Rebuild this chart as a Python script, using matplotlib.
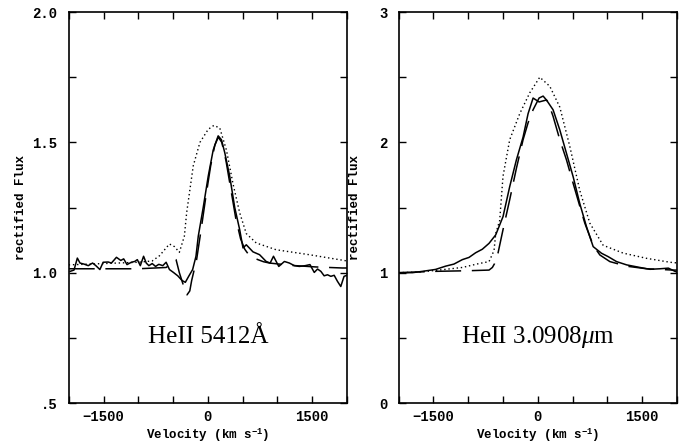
import matplotlib
matplotlib.use("Agg")
import matplotlib.pyplot as plt
from matplotlib.ticker import MultipleLocator, FixedLocator, FixedFormatter

plt.rcParams['mathtext.fontset'] = 'custom'
plt.rcParams['mathtext.rm'] = 'Liberation Mono:bold'
plt.rcParams['mathtext.it'] = 'Liberation Serif:italic'

# ---------------- Left panel: HeII 5412 A ----------------
obs_v_L = [-1981, -1924, -1876, -1838, -1781, -1719, -1657, -1610, -1552, -1505, -1433, -1386,
           -1314, -1252, -1210, -1162, -1100, -1052, -1014, -971, -924, -886, -848, -800, -752,
           -705, -648, -600, -552, -495, -433, -371, -324, -276, -219, -171, -138, -67, 5, 76,
           148, 195, 243, 314, 386, 457, 505, 552, 648, 743, 838, 895, 943, 1019, 1100, 1171,
           1243, 1314, 1400, 1467, 1529, 1576, 1624, 1671, 1719, 1767, 1815, 1862, 1910, 1957, 2000]
obs_f_L = [1.005, 1.01, 1.056, 1.037, 1.033, 1.027, 1.037, 1.027, 1.012, 1.04, 1.041, 1.037,
           1.059, 1.047, 1.053, 1.031, 1.04, 1.043, 1.05, 1.027, 1.063, 1.037, 1.027, 1.035, 1.024,
           1.032, 1.027, 1.04, 1.012, 1.001, 0.988, 0.97, 0.963, 0.986, 1.012, 1.063, 1.14, 1.25,
           1.37, 1.47, 1.525, 1.51, 1.46, 1.37, 1.25, 1.165, 1.095, 1.107, 1.08, 1.069, 1.043,
           1.037, 1.063, 1.024, 1.043, 1.037, 1.027, 1.024, 1.027, 1.031, 1.001, 1.014, 1.005,
           0.988, 0.992, 0.986, 0.99, 0.967, 0.947, 0.986, 0.99]

mod1_v_L = [-2000, -1500, -1000, -600, -500, -457, -410, -362, -300, -260, -233, -162, -100, -30,
            40, 100, 150, 200, 260, 330, 400, 470, 530, 576, 650, 719, 800, 886, 1200, 1552, 1933, 2000]
mod1_f_L = [1.015, 1.015, 1.015, 1.02, 1.04, 1.05, 1.00, 0.96, 0.915, 0.93, 0.97, 1.05, 1.16, 1.29,
            1.41, 1.49, 1.52, 1.50, 1.43, 1.32, 1.21, 1.13, 1.09, 1.073, 1.058, 1.05, 1.042, 1.037,
            1.028, 1.022, 1.018, 1.018]

mod2_v_L = [-2000, -1500, -1000, -800, -695, -600, -552, -480, -410, -338, -305, -210, -114, 5, 86,
            171, 267, 362, 457, 552, 695, 981, 1457, 2000]
mod2_f_L = [1.03, 1.035, 1.04, 1.045, 1.065, 1.095, 1.11, 1.10, 1.078, 1.14, 1.23, 1.41, 1.50, 1.55,
            1.565, 1.555, 1.47, 1.34, 1.23, 1.15, 1.114, 1.088, 1.069, 1.045]

# ---------------- Right panel: HeII 3.0908 um ----------------
obs_v_R = [-2000, -1800, -1660, -1468, -1324, -1204, -1084, -988, -892, -796, -700, -604, -499, -403,
           -307, -211, -139, -67, 19, 125, 220, 317, 413, 508, 604, 700, 796, 916, 1012, 1132, 1276,
           1468, 1612, 1756, 1876, 1972, 2000]
obs_f_R = [1.0, 1.0, 1.01, 1.025, 1.05, 1.066, 1.10, 1.117, 1.153, 1.18, 1.225, 1.29, 1.43, 1.66,
           1.865, 2.04, 2.22, 2.34, 2.31, 2.325, 2.25, 2.095, 1.915, 1.737, 1.53, 1.353, 1.20, 1.149,
           1.123, 1.085, 1.06, 1.04, 1.026, 1.03, 1.035, 1.01, 1.005]

mod1_v_R = [-2000, -1500, -1000, -700, -652, -620, -571, -499, -403, -307, -211, -139, -67, 19, 77,
            149, 220, 317, 413, 508, 604, 676, 796, 892, 1036, 1276, 1564, 1947, 2000]
mod1_f_R = [1.0, 1.01, 1.015, 1.02, 1.04, 1.07, 1.15, 1.33, 1.56, 1.80, 2.02, 2.15, 2.25, 2.34, 2.355,
            2.31, 2.20, 2.02, 1.865, 1.686, 1.51, 1.38, 1.21, 1.136, 1.085, 1.05, 1.03, 1.02, 1.02]

mod2_v_R = [-2000, -1700, -1420, -1084, -844, -700, -628, -604, -547, -499, -403, -259, -115, 29, 173,
            317, 460, 604, 748, 940, 1228, 1564, 1900, 2000]
mod2_f_R = [1.0, 1.005, 1.02, 1.04, 1.07, 1.085, 1.17, 1.30, 1.40, 1.74, 2.02, 2.22, 2.38, 2.50, 2.43,
            2.27, 1.97, 1.63, 1.38, 1.21, 1.15, 1.11, 1.08, 1.075]

labels = ["HeII 5412Å", "HeII 3.0908$\\mu$m"]
x_ticks = [-1500, 0, 1500]
x_ticklabels = ["\u22121500", "0", "1500"]
yL_ticks = [0.5, 1.0, 1.5, 2.0]
yL_ticklabels = [".5", "1.0", "1.5", "2.0"]
yR_ticks = [0, 1, 2, 3]
yR_ticklabels = ["0", "1", "2", "3"]

fig = plt.figure(figsize=(6.81, 4.47), dpi=100)
axL = fig.add_axes([0.1009, 0.0984, 0.4087, 0.8747])
axR = fig.add_axes([0.5852, 0.0984, 0.4089, 0.8747])

labfont = dict(family='Liberation Mono', weight='bold', size=9)

panels = [
    (axL, obs_v_L, obs_f_L, mod1_v_L, mod1_f_L, mod2_v_L, mod2_f_L, (0.5, 2.0), yL_ticks, yL_ticklabels, 0.25, labels[0], -0.15),
    (axR, obs_v_R, obs_f_R, mod1_v_R, mod1_f_R, mod2_v_R, mod2_f_R, (0.0, 3.0), yR_ticks, yR_ticklabels, 0.5, labels[1], -0.133),
]

for ax, ov, of, m1v, m1f, m2v, m2f, ylim, yt, ytl, yminor, lab, ylx in panels:
    ax.plot(m2v, m2f, color='black', lw=1.0, linestyle=(0, (1, 2)))
    ax.plot(m1v, m1f, color='black', lw=1.1, linestyle=(0, (17, 7)))
    ax.plot(ov, of, color='black', lw=1.1, linestyle='-')
    ax.set_xlim(-2000, 2000)
    ax.set_ylim(*ylim)
    ax.xaxis.set_major_locator(FixedLocator(x_ticks))
    ax.xaxis.set_major_formatter(FixedFormatter(x_ticklabels))
    ax.xaxis.set_minor_locator(MultipleLocator(500))
    ax.yaxis.set_major_locator(FixedLocator(yt))
    ax.yaxis.set_major_formatter(FixedFormatter(ytl))
    ax.yaxis.set_minor_locator(MultipleLocator(yminor))
    ax.tick_params(which='both', direction='in', top=True, right=True, length=5, width=1)
    ax.tick_params(axis='x', which='major', pad=5)
    ax.tick_params(axis='y', which='major', pad=8)
    for t in ax.get_xticklabels() + ax.get_yticklabels():
        t.set_fontfamily('Liberation Mono')
        t.set_fontweight('bold')
        t.set_fontsize(10)
    for s in ax.spines.values():
        s.set_linewidth(1.2)
    ax.set_xlabel("Velocity (km s$^{-1}$)", **labfont, labelpad=2)
    ax.set_ylabel("rectified Flux", family='Liberation Mono', weight='bold', size=9)
    ax.yaxis.set_label_coords(ylx, 0.5)
    ax.text(0.5, 0.17, lab, transform=ax.transAxes, ha='center', va='center',
            family='Liberation Serif', fontsize=18)

fig.savefig("out.png", dpi=100)
